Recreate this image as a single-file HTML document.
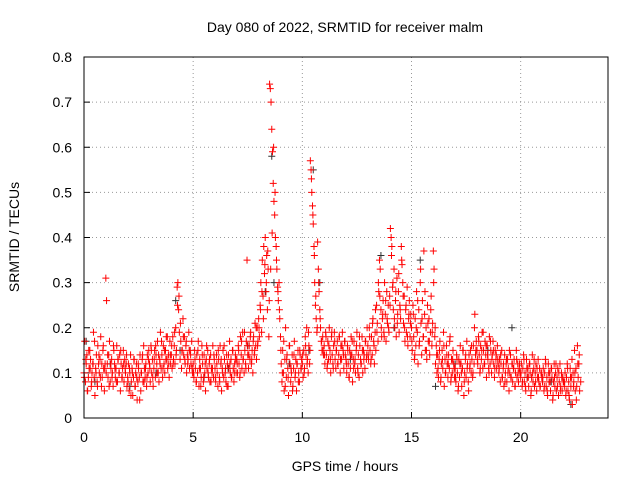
<!DOCTYPE html>
<html><head><meta charset="utf-8"><style>
body{margin:0;background:#fff}
svg{display:block;font-family:"Liberation Sans",sans-serif}
</style></head><body>
<svg id="c" width="640" height="480" viewBox="0 0 640 480">
<text x="345" y="32" font-size="14" text-anchor="middle">Day 080 of 2022, SRMTID for receiver malm</text>
<text x="345" y="471" font-size="14" text-anchor="middle">GPS time / hours</text>
<text transform="translate(19,237) rotate(-90)" font-size="14" text-anchor="middle">SRMTID / TECUs</text>
<g id="grid"></g><g id="ticks"></g><g id="black"></g><g id="red"></g>
<rect x="84" y="57" width="524" height="361" fill="none" stroke="#000"/>
</svg>
<script>
const xTicks=[0,5,10,15,20];
const yTicks=[0,0.1,0.2,0.3,0.4,0.5,0.6,0.7,0.8];
const yTickLabels=["0","0.1","0.2","0.3","0.4","0.5","0.6","0.7","0.8"];
const stepHours=1/30;
const redValues=[
10,17,8,12,14,6,9,11,15,13,7,10,12,19,9,5,11,14,8,16,12,10,13,18,7,9,15,11,6,12,
31,26,12,9,14,17,8,11,13,10,7,15,12,9,11,16,8,13,10,14,6,12,9,11,15,8,13,10,12,7,
9,12,6,10,14,8,11,5,9,13,7,10,12,4,8,11,9,14,6,10,13,8,16,11,9,12,7,14,10,15,
12,8,16,10,13,7,11,15,9,14,12,17,10,8,13,19,11,14,9,16,12,10,15,18,13,11,14,9,17,12,
14,11,18,13,16,12,20,15,29,30,24,19,13,17,11,15,22,14,18,12,16,10,14,13,19,11,15,12,17,10,
12,9,15,11,8,14,10,17,7,13,11,9,16,12,8,14,10,6,13,11,15,9,12,8,14,11,10,16,9,13,
11,8,14,10,7,13,9,16,12,6,11,15,9,13,10,8,14,12,7,11,17,10,13,9,15,11,8,12,14,10,
13,10,16,12,9,18,14,11,19,13,10,15,12,17,35,14,11,16,13,19,12,15,10,18,14,21,16,13,20,17,
22,18,25,30,19,35,27,38,32,40,28,36,24,33,18,74,73,70,64,59,52,48,45,40,38,33,29,26,30,22,
18,12,8,15,10,6,13,20,9,14,11,5,16,12,8,10,14,7,11,17,9,13,6,12,15,10,8,14,11,13,
12,9,15,11,18,14,20,13,10,16,12,57,55,50,47,43,38,30,25,22,19,39,33,28,24,20,17,15,18,14,
16,12,19,14,11,17,13,20,15,10,18,14,12,16,19,13,11,15,17,12,14,18,10,16,13,19,15,11,17,14,
13,10,16,12,9,15,11,18,14,8,13,17,12,10,15,19,11,14,9,16,13,12,18,10,15,14,11,17,13,20,
16,13,20,15,12,18,14,22,17,12,19,15,25,21,17,28,35,33,24,18,22,26,19,30,23,17,28,21,25,19,
27,42,40,38,29,24,33,20,26,18,31,23,28,19,25,22,38,34,30,21,27,17,24,19,29,16,22,26,18,23,
20,15,25,18,13,22,16,28,19,12,24,17,30,21,14,26,18,37,23,15,20,13,25,17,22,14,19,27,16,21,
37,33,18,12,16,10,14,9,13,17,8,12,15,11,19,7,13,10,16,12,9,14,11,18,8,13,10,15,12,9,
11,8,14,10,6,13,9,16,12,7,11,15,5,10,13,9,17,12,8,14,11,15,10,13,9,16,12,23,14,17,
15,12,18,14,10,16,13,19,11,15,12,17,14,9,16,13,11,18,12,15,10,14,17,12,9,15,13,11,16,12,
10,13,8,12,15,9,11,7,14,10,12,8,13,11,6,10,14,9,12,8,11,13,7,10,15,9,12,8,11,10,
9,12,7,11,14,8,10,6,13,9,11,7,12,10,5,9,14,8,11,7,10,12,6,9,13,8,11,7,10,9,
8,11,6,10,13,7,9,5,12,8,10,6,11,9,4,8,12,7,10,6,9,11,5,8,12,7,10,6,9,8,
7,10,5,9,12,6,8,4,11,7,9,3,10,8,15,6,11,7,16,9,12,6];
const stepHours2=1/15;
const redValues2=[
9,13,6,15,11,8,12,17,10,7,14,9,12,16,11,
10,14,7,12,9,16,11,8,13,10,15,9,12,11,14,
8,11,5,10,13,7,9,12,4,10,14,8,11,9,13,
11,15,9,13,16,10,14,12,17,11,15,13,18,12,14,
16,12,19,14,25,27,21,15,18,13,17,12,15,14,11,
10,13,8,15,11,7,14,9,12,16,10,13,8,11,14,
9,12,15,8,13,10,16,11,7,14,12,9,15,10,13,
12,15,10,17,13,19,11,16,14,18,13,17,15,20,16,
20,24,28,22,34,30,37,26,33,41,60,50,35,28,24,
15,10,17,7,13,9,16,11,6,14,10,12,8,15,11,
14,10,16,12,19,15,53,45,36,27,20,30,22,17,15,
14,18,12,16,13,19,11,17,15,12,18,13,16,14,17,
12,15,9,14,17,11,13,16,10,18,12,15,13,17,14,
14,18,13,21,16,24,19,30,27,20,23,18,26,22,20,
25,36,30,22,28,21,32,24,35,27,20,25,18,23,21,
17,23,14,20,26,16,33,22,18,28,15,21,17,24,19,
30,20,14,11,15,9,13,16,10,14,12,17,9,13,11,
9,13,7,12,10,15,8,14,11,6,12,16,10,20,15,
13,17,11,15,19,12,16,14,10,17,13,15,11,14,13,
11,14,9,12,8,13,10,15,9,12,11,7,13,10,12,
10,8,13,7,11,9,12,6,10,13,8,11,9,7,10,
9,7,12,6,10,8,11,5,9,12,7,10,6,9,8,
8,6,11,5,9,13,7,10,4,12,14,8];
const blackTimes=[0.1,0.5,1.2,2.1,3.3,4.2,4.4,5.5,6.6,7.5,8.3,8.6,8.7,9.4,10.3,10.5,10.8,12.2,13.6,14.2,15.4,16.1,17.0,18.5,19.6,20.3,21.4,22.3];
const blackValues=[0.17,0.08,0.12,0.07,0.10,0.26,0.15,0.09,0.11,0.16,0.28,0.58,0.30,0.12,0.15,0.55,0.30,0.13,0.36,0.20,0.35,0.07,0.12,0.15,0.20,0.09,0.08,0.03];
const X=v=>84+v*(524/24), Y=v=>418-v*(361/0.8);
const NS="http://www.w3.org/2000/svg";
function mk(tag,attrs,parent){const e=document.createElementNS(NS,tag);for(const k in attrs)e.setAttribute(k,attrs[k]);parent.appendChild(e);return e;}
const grid=document.getElementById('grid'),ticks=document.getElementById('ticks');
xTicks.forEach(t=>{
 const g=mk('line',{x1:X(t),x2:X(t),y1:57,y2:418,stroke:'#999','stroke-dasharray':'1,3'},grid);
 
 
 const l=mk('text',{x:X(t),y:442,'font-size':14,'text-anchor':'middle'},ticks);l.textContent=t;
 
 
 mk('line',{x1:X(t),x2:X(t),y1:418,y2:412,stroke:'#000'},ticks);
});
yTicks.forEach((t,i)=>{
 const g=mk('line',{x1:84,x2:608,y1:Y(t),y2:Y(t),stroke:'#999','stroke-dasharray':'1,3'},grid);
 
 
 const l=mk('text',{x:72,y:Y(t)+5,'font-size':14,'text-anchor':'end'},ticks);l.textContent=yTickLabels[i];
 
 
 mk('line',{x1:84,x2:90,y1:Y(t),y2:Y(t),stroke:'#000'},ticks);
});
function plus(x,y){return `M${x-3.5},${y}h7M${x},${y-3.5}v7`;}
let db='';blackTimes.forEach((t,i)=>{db+=plus(X(t),Y(blackValues[i]));});
const bp=mk('path',{d:db,stroke:'#333','stroke-width':1,fill:'none'},document.getElementById('black'));


let dr='';
redValues.forEach((v,i)=>{dr+=plus(X(i*stepHours),Y(v/100));});
redValues2.forEach((v,i)=>{dr+=plus(X(i*stepHours2+1/60),Y(v/100));});
const rp=mk('path',{d:dr,stroke:'#f00','stroke-width':1,fill:'none'},document.getElementById('red'));


</script>
</body></html>
